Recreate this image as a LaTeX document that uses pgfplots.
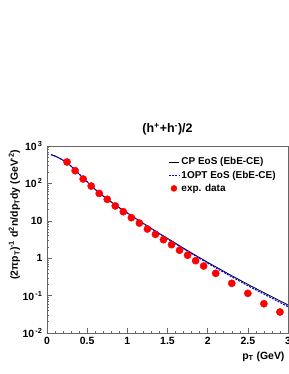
\documentclass[border=0pt]{standalone}
\usepackage{fontspec}
\setmainfont{Liberation Sans}
\usepackage{pgfplots}
\pgfplotsset{compat=1.18}
\pgfplotstableread{
x y
0.05 589
0.1 537
0.15 479
0.2 417
0.25 355
0.3 288
0.35 229
0.4 178
0.45 140
0.5 110
0.55 87.1
0.6 69.2
0.65 55.6
0.7 45.7
0.8 31.6
0.9 22.4
1.0 16.2
1.1 11.7
1.2 8.51
1.3 6.24
1.4 4.57
1.5 3.39
1.6 2.51
1.7 1.86
1.8 1.38
1.9 1.035
2.0 0.776
2.1 0.589
2.2 0.447
2.3 0.340
2.4 0.261
2.5 0.200
2.6 0.155
2.7 0.120
2.8 0.0933
2.9 0.0724
3.0 0.0562
}\cpeos
\pgfplotstableread{
x y
0.05 589
0.1 537
0.15 479
0.2 417
0.25 355
0.3 288
0.35 229
0.4 178
0.45 140
0.5 110
0.55 87.1
0.6 69.2
0.65 55.6
0.7 45.7
0.8 31.6
0.9 22.4
1.0 16.2
1.1 11.64
1.2 8.42
1.3 6.14
1.4 4.48
1.5 3.30
1.6 2.43
1.7 1.79
1.8 1.32
1.9 0.988
2.0 0.737
2.1 0.556
2.2 0.420
2.3 0.318
2.4 0.243
2.5 0.185
2.6 0.142
2.7 0.110
2.8 0.0853
2.9 0.0658
3.0 0.0506
}\optoeos
\pgfplotstableread{
x y
0.25 373
0.35 219
0.45 131
0.55 85
0.65 54
0.75 37.6
0.85 25
0.95 17.5
1.05 12.1
1.15 8.7
1.25 6.04
1.35 4.35
1.45 3.13
1.55 2.30
1.65 1.63
1.75 1.20
1.85 0.857
1.95 0.618
2.1 0.394
2.3 0.213
2.5 0.115
2.7 0.0607
2.9 0.0364
}\expdata
\begin{document}
\begin{tikzpicture}
\path[use as bounding box] (-47bp,-41bp) rectangle (242bp,333bp);
\begin{axis}[
  scale only axis,
  width=241bp, height=187bp,
  anchor=south west, at={(0,0)},
  ymode=log,
  xmin=0, xmax=3, ymin=0.01, ymax=1000,
  axis line style={black!60, line width=0.7pt},
  tick style={black!60, line width=0.5pt},
  tick pos=left,
  tick align=inside,
  major tick length=5bp,
  minor tick length=2.5bp,
  xtick={0,0.5,1,1.5,2,2.5,3},
  xticklabels={0,0.5,1,1.5,2,2.5,3},
  minor x tick num=4,
  ytick={0.01,0.1,1,10,100,1000},
  yticklabels={{10\textsuperscript{\,-2}},{10\textsuperscript{\,-1}},1,10,{10\textsuperscript{\,2}},{10\textsuperscript{\,3}}},
  ticklabel style={font=\bfseries\fontsize{10.5}{12}\selectfont},
  xticklabel style={yshift=-1bp},
  yticklabel style={xshift=-1bp},
  xlabel={p\textsubscript{T} (GeV)},
  xlabel style={font=\bfseries\fontsize{10.5}{12}\selectfont, at={(axis description cs:1,0)}, anchor=north east, yshift=-15bp},
  ylabel={(2πp\textsubscript{T})\textsuperscript{-1} d\textsuperscript{2}n/dp\textsubscript{T}dy (GeV\textsuperscript{-2})},
  ylabel style={font=\bfseries\fontsize{10.5}{12}\selectfont, at={(axis description cs:-0.135,1)}, anchor=east},
  title={(h\textsuperscript{+}+h\textsuperscript{-})/2},
  title style={font=\bfseries\fontsize{12.5}{14}\selectfont, at={(axis description cs:0.5,1)}, anchor=south, yshift=1bp},
  legend style={draw=none, fill=none, at={(axis description cs:0.97,0.96)}, anchor=north east,
    font=\bfseries\fontsize{10}{12}\selectfont, row sep=0.5bp, legend cell align=left},
  legend image code/.code={\draw[#1] (0bp,0bp) -- (10bp,0bp);},
]
\addplot[black, line width=0.8pt] table[x=x,y=y] {\cpeos};
\addlegendentry{CP EoS (EbE-CE)}
\addplot[blue, line width=1.1pt, dash pattern=on 2pt off 1.2pt] table[x=x,y=y] {\optoeos};
\addlegendentry{1OPT EoS (EbE-CE)}
\addplot[only marks, mark=*, mark size=3.6bp, mark options={fill=red, draw=red}, red,
  legend image code/.code={\fill[red] (5bp,0bp) circle (3bp);}] table[x=x,y=y] {\expdata};
\addlegendentry{exp. data}
\end{axis}
\end{tikzpicture}
\end{document}
